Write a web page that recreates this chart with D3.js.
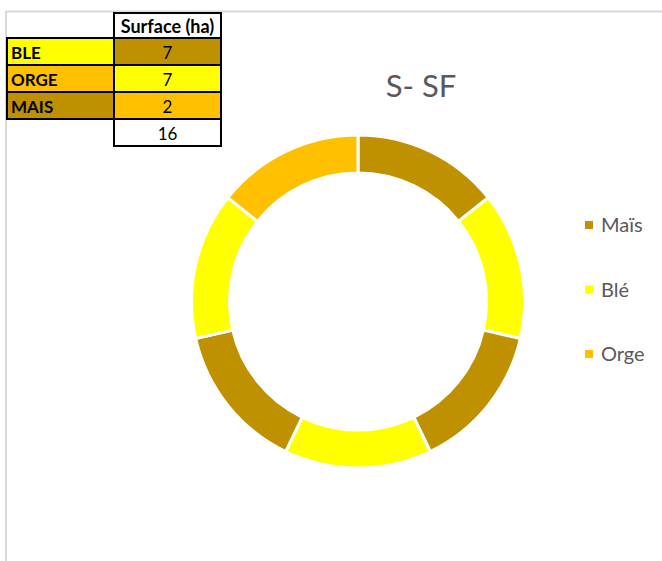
<!DOCTYPE html>
<html>
<head>
<meta charset="utf-8">
<script src="https://cdn.jsdelivr.net/npm/d3@7"></script>
<style>
  body { margin: 0; background: #ffffff; }
  svg { display: block; }
</style>
</head>
<body>
<div id="chart"></div>
<script>
// table data
var tableCrops = ["BLE", "ORGE", "MAIS"];
var tableSurface = [7, 7, 2];
var tableHeader = "Surface (ha)";

// donut data (clockwise from top)
var segmentLabels = ["Maïs", "Blé", "Maïs", "Blé", "Maïs", "Blé", "Orge"];
var segmentValues = [1, 1, 1, 1, 1, 1, 1];

// legend
var legendLabels = ["Maïs", "Blé", "Orge"];
var chartTitle = "S- SF";

var width = 662;
var height = 561;

var color = d3.scaleOrdinal()
  .domain(["Maïs", "Blé", "Orge"])
  .range(["#bf9000", "#ffff00", "#ffc000"]);

var tableColor = d3.scaleOrdinal()
  .domain(["BLE", "ORGE", "MAIS"])
  .range(["#ffff00", "#ffc000", "#bf9000"]);

var svg = d3.select("#chart")
  .append("svg")
  .attr("width", width)
  .attr("height", height);

// chart area border (gray)
svg.append("line")
  .attr("x1", 6).attr("x2", width)
  .attr("y1", 11.5).attr("y2", 11.5)
  .attr("stroke", "#d9d9d9").attr("stroke-width", 2);
svg.append("line")
  .attr("x1", 6).attr("x2", 6)
  .attr("y1", 11).attr("y2", height)
  .attr("stroke", "#d9d9d9").attr("stroke-width", 2);

// title
svg.append("text")
  .attr("x", 421)
  .attr("y", 97)
  .attr("text-anchor", "middle")
  .attr("font-family", "Lato, 'Open Sans', sans-serif")
  .attr("font-size", 31)
  .attr("fill", "#595959")
  .text(chartTitle);

// donut
var cx = 358, cy = 301.5;
var outerR = 166.5, innerR = 128.5;

var pie = d3.pie().sort(null).value(function (d) { return d; });
var arc = d3.arc().innerRadius(innerR).outerRadius(outerR);

svg.append("g")
  .attr("transform", "translate(" + cx + "," + cy + ")")
  .selectAll("path")
  .data(pie(segmentValues))
  .enter()
  .append("path")
  .attr("d", arc)
  .attr("fill", function (d, i) { return color(segmentLabels[i]); })
  .attr("stroke", "#ffffff")
  .attr("stroke-width", 3);

// legend
var legendY = d3.scalePoint()
  .domain(legendLabels)
  .range([225, 354]);

var legend = svg.append("g")
  .selectAll("g")
  .data(legendLabels)
  .enter()
  .append("g")
  .attr("transform", function (d) { return "translate(585," + legendY(d) + ")"; });

legend.append("rect")
  .attr("x", 0).attr("y", -4)
  .attr("width", 8).attr("height", 8)
  .attr("fill", function (d) { return color(d); });

legend.append("text")
  .attr("x", 16)
  .attr("y", 7)
  .attr("font-family", "Lato, 'Open Sans', sans-serif")
  .attr("font-size", 20)
  .attr("fill", "#595959")
  .text(function (d) { return d; });

// table
var col1 = 7, col2 = 114, col3 = 221;
var headTop = 13, rowTop = 38, rowH = 27;
var tbl = svg.append("g").attr("font-family", "Lato, 'Open Sans', sans-serif");

tbl.append("rect")
  .attr("x", col2).attr("y", headTop)
  .attr("width", col3 - col2).attr("height", rowTop - headTop)
  .attr("fill", "#ffffff").attr("stroke", "#000").attr("stroke-width", 2);
tbl.append("text")
  .attr("x", (col2 + col3) / 2).attr("y", rowTop - 5)
  .attr("text-anchor", "middle")
  .attr("font-weight", "bold").attr("font-size", 18)
  .text(tableHeader);

var rows = tbl.selectAll("g.row")
  .data(tableCrops)
  .enter()
  .append("g")
  .attr("class", "row")
  .attr("transform", function (d, i) { return "translate(0," + (rowTop + i * rowH) + ")"; });

rows.append("rect")
  .attr("x", col1).attr("y", 0)
  .attr("width", col2 - col1).attr("height", rowH)
  .attr("fill", function (d) { return tableColor(d); })
  .attr("stroke", "#000").attr("stroke-width", 2);

rows.append("rect")
  .attr("x", col2).attr("y", 0)
  .attr("width", col3 - col2).attr("height", rowH)
  .attr("fill", function (d, i) { return tableColor(tableCrops[(i + 2) % 3]); })
  .attr("stroke", "#000").attr("stroke-width", 2);

rows.append("text")
  .attr("x", col1 + 4).attr("y", rowH - 6)
  .attr("font-weight", "bold").attr("font-size", 17)
  .text(function (d) { return d; });

rows.append("text")
  .attr("x", (col2 + col3) / 2).attr("y", rowH - 6)
  .attr("text-anchor", "middle")
  .attr("font-size", 17)
  .text(function (d, i) { return tableSurface[i]; });

// total row
var totalY = rowTop + tableCrops.length * rowH;
tbl.append("rect")
  .attr("x", col2).attr("y", totalY)
  .attr("width", col3 - col2).attr("height", rowH)
  .attr("fill", "#ffffff").attr("stroke", "#000").attr("stroke-width", 2);
tbl.append("text")
  .attr("x", (col2 + col3) / 2).attr("y", totalY + rowH - 6)
  .attr("text-anchor", "middle")
  .attr("font-size", 17)
  .text(d3.sum(tableSurface));
</script>
</body>
</html>
